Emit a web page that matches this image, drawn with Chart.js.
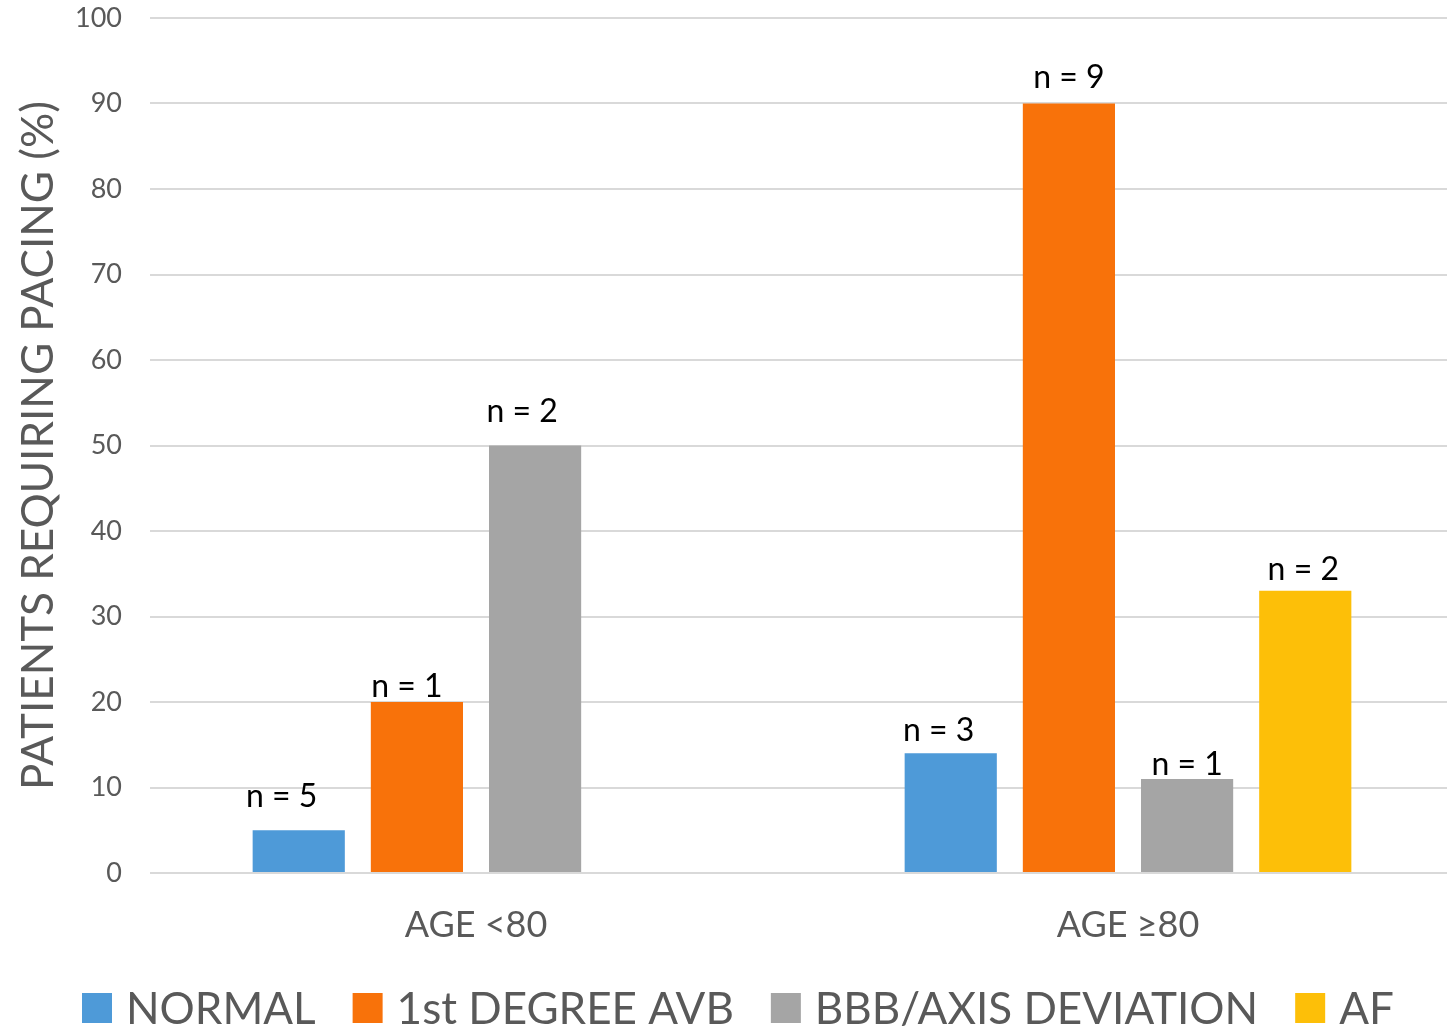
<!DOCTYPE html>
<html>
<head>
<meta charset="utf-8">
<script src="https://cdn.jsdelivr.net/npm/chart.js@4/dist/chart.umd.min.js"></script>
<style>
  html, body { margin: 0; padding: 0; background: #fff; overflow: hidden; }
  #wrap { width: 1454px; height: 1033px; }
</style>
</head>
<body>
<div id="wrap"><canvas id="c" width="1454" height="1033"></canvas></div>
<script>
// Age groups and share of patients requiring pacing (%) per ECG finding
const categories = ['AGE <80', 'AGE \u226580'];
const seriesNames = ['NORMAL', '1st DEGREE AVB', 'BBB/AXIS DEVIATION', 'AF'];
const normalPct = [5, 14];
const avbPct = [20, 90];
const bbbPct = [50, 11];
const afPct = [null, 33];
// Patient counts printed above each bar
const normalN = [5, 3];
const avbN = [1, 9];
const bbbN = [2, 1];
const afN = [null, 2];
const yTicks = [0, 10, 20, 30, 40, 50, 60, 70, 80, 90, 100];

const colors = ['#4e9ad8', '#f8720a', '#a5a5a5', '#fdbf08'];
const values = [normalPct, avbPct, bbbPct, afPct];
const counts = [normalN, avbN, bbbN, afN];

const FONT = 'Lato, "Open Sans", sans-serif';
const TEXT_GREY = '#595959';

// "n = x" text boxes above each bar; each box sits at its own hand-set spot
const countLabels = {
  id: 'countLabels',
  afterDatasetsDraw(chart, args, opts) {
    const ctx = chart.ctx;
    ctx.save();
    ctx.font = '32px ' + FONT;
    ctx.fillStyle = '#000';
    ctx.textAlign = 'center';
    ctx.textBaseline = 'alphabetic';
    chart.data.datasets.forEach((ds, i) => {
      const meta = chart.getDatasetMeta(i);
      meta.data.forEach((bar, j) => {
        const n = counts[i][j];
        if (n == null || ds.data[j] == null) return;
        const [dx, lift] = opts.nudge[i][j];
        ctx.fillText('n = ' + n, bar.x + dx, bar.y - lift);
      });
    });
    ctx.restore();
  }
};

// Legend row along the bottom edge: square swatch, label, gap
const bottomLegend = {
  id: 'bottomLegend',
  afterDraw(chart) {
    const ctx = chart.ctx;
    const box = 30, boxGap = 14, itemGap = 37;
    ctx.save();
    ctx.font = '44px ' + FONT;
    let x = 82;
    const cy = chart.height - 25;
    ctx.textBaseline = 'middle';
    ctx.textAlign = 'left';
    seriesNames.forEach((s, i) => {
      ctx.fillStyle = colors[i];
      ctx.fillRect(x, cy - box / 2, box, box);
      x += box + boxGap;
      ctx.fillStyle = TEXT_GREY;
      ctx.fillText(s, x, cy + 2);
      x += ctx.measureText(s).width + itemGap;
    });
    ctx.restore();
  }
};

new Chart(document.getElementById('c'), {
  type: 'bar',
  data: {
    labels: categories,
    datasets: seriesNames.map((name, i) => ({
      label: name,
      data: values[i],
      backgroundColor: colors[i],
      borderWidth: 0,
      categoryPercentage: 0.725,
      barPercentage: 0.78
    }))
  },
  options: {
    responsive: false,
    animation: false,
    layout: { padding: { top: 18, left: 0, right: 0, bottom: 86 } },
    plugins: {
      tooltip: { enabled: false },
      legend: { display: false },
      countLabels: {
        // [horizontal shift, baseline height above bar top] per series and group
        nudge: [
          [[-17, 23], [-12, 12]],
          [[-10, 5], [0, 16]],
          [[-13, 24], [0, 4]],
          [[0, 0], [-2, 11]]
        ]
      }
    },
    scales: {
      x: {
        grid: { display: false, drawTicks: false },
        border: { display: false },
        ticks: {
          font: { family: FONT, size: 36 },
          color: TEXT_GREY,
          padding: 31
        },
        afterFit(scale) {
          scale.height = 74;
          scale.paddingLeft = 0;
          scale.paddingRight = 0;
        }
      },
      y: {
        min: 0,
        max: 100,
        afterBuildTicks(axis) { axis.ticks = yTicks.map(v => ({ value: v })); },
        grid: { color: '#d9d9d9', lineWidth: 2, drawTicks: false },
        border: { display: false },
        ticks: {
          font: { family: FONT, size: 27 },
          color: TEXT_GREY,
          padding: 28
        },
        title: {
          display: true,
          text: 'PATIENTS REQUIRING PACING (%)',
          font: { family: FONT, size: 44 },
          color: TEXT_GREY,
          padding: { top: 12, bottom: 12 }
        },
        afterFit(scale) {
          scale.width = 150;
          scale.paddingTop = 0;
          scale.paddingBottom = 0;
        }
      }
    }
  },
  plugins: [countLabels, bottomLegend]
});
</script>
</body>
</html>
